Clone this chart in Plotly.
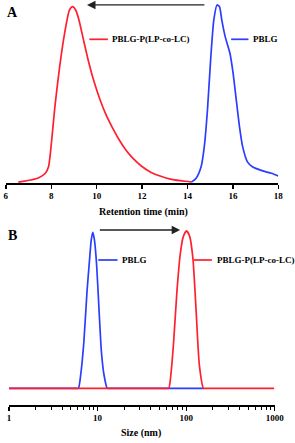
import plotly.graph_objects as go

W, H = 295, 443

# ---------------- data ----------------
# Panel A: GPC traces (retention time, normalized intensity)
a_red_t = [6.55, 7.10, 7.45, 7.74, 7.88, 8.02, 8.16, 8.37, 8.59, 8.80, 8.94, 9.08, 9.22,
           9.44, 9.65, 9.86, 10.14, 10.42, 10.71, 10.99, 11.27, 11.56, 11.98, 12.40,
           12.83, 13.25, 13.68, 14.10, 14.17]
a_red_i = [0.005, 0.017, 0.03, 0.055, 0.092, 0.244, 0.433, 0.66, 0.85, 0.98, 1.0, 0.98, 0.925,
           0.80, 0.685, 0.585, 0.475, 0.385, 0.31, 0.245, 0.19, 0.145, 0.095, 0.06,
           0.038, 0.022, 0.013, 0.007, 0.005]
a_blue_t = [14.17, 14.38, 14.60, 14.74, 14.88, 15.02, 15.16, 15.30, 15.41, 15.51, 15.66,
            15.87, 16.01, 16.15, 16.29, 16.43, 16.64, 16.86, 17.28, 17.70, 18.0]
a_blue_i = [0.005, 0.027, 0.092, 0.206, 0.414, 0.70, 0.925, 1.01, 1.0, 0.925, 0.83,
            0.736, 0.622, 0.47, 0.32, 0.206, 0.12, 0.092, 0.07, 0.055, 0.04]
a_ticks = [6, 8, 10, 12, 14, 16, 18]

# Panel B: DLS size distributions (size nm, normalized intensity)
b_blue_s = [1, 5.5, 6.06, 6.44, 7.0, 7.59, 8.13, 8.48, 8.82, 9.21, 9.75, 10.36, 11.04,
            11.82, 12.84, 13.5, 157]
b_blue_i = [0, 0, 0, 0.084, 0.294, 0.61, 0.82, 0.937, 0.985, 0.937, 0.78, 0.505, 0.231,
            0.084, 0, 0, 0]
b_red_s = [1, 60, 63.7, 67.7, 72.2, 78.6, 85.5, 92.8, 101, 109.7, 119.2, 129.7, 140.9,
           157, 165, 985]
b_red_i = [0, 0, 0, 0.105, 0.294, 0.61, 0.842, 0.958, 0.994, 0.958, 0.82, 0.484, 0.147,
           0, 0, 0]
b_ticks = [1, 10, 100, 1000]
b_minor = [2, 3, 4, 5, 6, 7, 8, 9, 20, 30, 40, 50, 60, 70, 80, 90,
           200, 300, 400, 500, 600, 700, 800, 900]

RED = "#ff1f2f"
BLUE = "#2b3dff"
FONT = "Liberation Serif"


def px(x):
    return x / W


def py(y):
    return 1 - y / H


fig = go.Figure()
line_style = dict(width=1.7, shape="spline", smoothing=0.6)
fig.add_trace(go.Scatter(x=a_red_t, y=a_red_i, mode="lines", line=dict(color=RED, **line_style),
                         xaxis="x", yaxis="y", showlegend=False))
fig.add_trace(go.Scatter(x=a_blue_t, y=a_blue_i, mode="lines", line=dict(color=BLUE, **line_style),
                         xaxis="x", yaxis="y", showlegend=False))
fig.add_trace(go.Scatter(x=b_blue_s, y=b_blue_i, mode="lines", line=dict(color=BLUE, **line_style),
                         xaxis="x2", yaxis="y2", showlegend=False))
fig.add_trace(go.Scatter(x=b_red_s, y=b_red_i, mode="lines", line=dict(color=RED, **line_style),
                         xaxis="x2", yaxis="y2", showlegend=False))

tickfont = dict(family=FONT, size=9, color="black", weight="bold")

fig.update_layout(
    width=W, height=H,
    margin=dict(l=0, r=0, t=0, b=0),
    paper_bgcolor="white", plot_bgcolor="white",
    xaxis=dict(domain=[px(4), px(287)], range=[6, 18], tickvals=a_ticks,
               ticks="outside", ticklen=4, tickwidth=1.3, tickcolor="black",
               showline=True, linecolor="black", linewidth=1.5,
               showgrid=False, zeroline=False, tickfont=tickfont, anchor="y"),
    yaxis=dict(domain=[py(183), 1], range=[0, 1.038], visible=False, anchor="x"),
    xaxis2=dict(domain=[px(7.3), px(283.3)], type="log", range=[0, 3], tickvals=b_ticks,
                ticktext=[str(v) for v in b_ticks],
                ticks="outside", ticklen=4, tickwidth=1.3, tickcolor="black",
                minor=dict(ticks="outside", ticklen=3, tickwidth=1, tickcolor="black",
                           tickvals=b_minor, showgrid=False),
                showline=True, linecolor="black", linewidth=1.5,
                showgrid=False, zeroline=False, tickfont=tickfont, anchor="y2"),
    xaxis3=dict(domain=[px(7.3), px(283.3)], type="log", range=[0, 3], tickvals=b_ticks,
                ticks="inside", ticklen=4, tickwidth=1.3, tickcolor="black",
                showticklabels=False, showline=False, showgrid=False, zeroline=False,
                overlaying="x2", anchor="y2"),
    yaxis2=dict(domain=[py(405), py(222)], range=[-0.1055, 1.0505], visible=False, anchor="x2"),
    showlegend=False,
)

ann = []
title_font = dict(family=FONT, size=10, color="black", weight="bold")
leg_font = dict(family=FONT, size=9, color="black", weight="bold")
lab_font = dict(family=FONT, size=14, color="black", weight="bold")

ann.append(dict(text="A", x=px(10.5), y=py(12.5), xref="paper", yref="paper",
                showarrow=False, font=lab_font, xanchor="center", yanchor="middle"))
ann.append(dict(text="B", x=px(11), y=py(235), xref="paper", yref="paper",
                showarrow=False, font=lab_font, xanchor="center", yanchor="middle"))
ann.append(dict(text="Retention time (min)", x=px(146.7), y=py(211.5), xref="paper", yref="paper",
                showarrow=False, font=title_font, xanchor="center", yanchor="middle"))
ann.append(dict(text="Size (nm)", x=px(144.5), y=py(433), xref="paper", yref="paper",
                showarrow=False, font=title_font, xanchor="center", yanchor="middle"))

# legend texts
for txt, x, y in [("PBLG-P(LP-co-LC)", 112.5, 39.3), ("PBLG", 258.5, 39.3),
                  ("PBLG", 122.5, 260), ("PBLG-P(LP-co-LC)", 221, 260)]:
    ann.append(dict(text=txt, x=px(x), y=py(y), xref="paper", yref="paper", showarrow=False,
                    font=leg_font, xanchor="left", yanchor="middle"))

# arrows
ann.append(dict(x=9.575, y=1.01, ax=14.81, ay=1.01, xref="x", yref="y", axref="x", ayref="y",
                text="", showarrow=True, arrowhead=2, arrowsize=1.3, arrowwidth=1.3,
                arrowcolor="#222222"))
ann.append(dict(x=1.932, y=1.0, ax=1.008, ay=1.0, xref="x2", yref="y2", axref="x2", ayref="y2",
                text="", showarrow=True, arrowhead=2, arrowsize=1.3, arrowwidth=1.3,
                arrowcolor="#222222"))
fig.update_layout(annotations=ann)

# legend keys
shapes = []
for col, x0, x1, y in [(RED, 90.7, 110, 39.3), (BLUE, 238, 256, 39.3),
                       (BLUE, 100, 120, 260), (RED, 199, 218, 260)]:
    shapes.append(dict(type="line", xref="paper", yref="paper", x0=px(x0), x1=px(x1),
                       y0=py(y), y1=py(y), line=dict(color=col, width=1.7)))
fig.update_layout(shapes=shapes)

fig.write_html("out.html", config={"displayModeBar": False, "staticPlot": True},
               post_script="document.body.style.margin='0';document.body.style.overflow='hidden';")
